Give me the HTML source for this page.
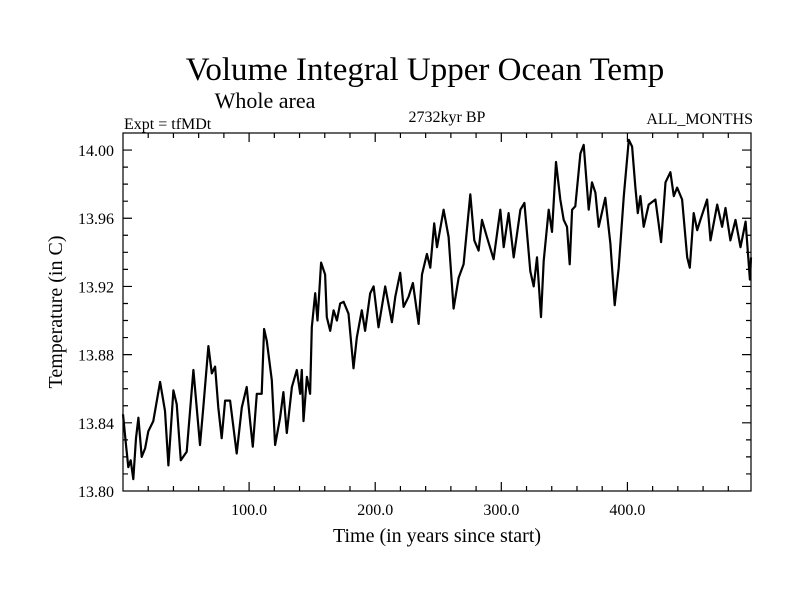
<!DOCTYPE html>
<html><head><meta charset="utf-8"><style>
body{margin:0;background:#fff;}
svg{display:block;font-family:"Liberation Serif",serif;}
</style></head><body>
<svg id="chart" width="800" height="600">
<text x="425" y="80" font-size="33" text-anchor="middle">Volume Integral Upper Ocean Temp</text>
<text x="265" y="108" font-size="22" text-anchor="middle">Whole area</text>
<text x="124" y="129" font-size="16">Expt = tfMDt</text>
<text x="447" y="122" font-size="16" text-anchor="middle">2732kyr BP</text>
<text x="753" y="124" font-size="16" text-anchor="end">ALL_MONTHS</text>
<text x="437" y="542" font-size="20" text-anchor="middle">Time (in years since start)</text>
<text transform="translate(62,312) rotate(-90)" font-size="20" text-anchor="middle">Temperature (in C)</text>
<g id="axes"></g>
<path id="line" fill="none" stroke="#000" stroke-width="2.2" stroke-linejoin="round"/>
</svg>
<script>
const years=[0,2.4,4.2,6.1,8.2,10.3,12.2,14.8,17.5,20.1,24,29.4,33.3,36,40,42.6,45.8,50.5,55.8,61.1,63.7,67.7,70.4,73,75.6,78.3,81,84.9,90.2,94.2,98.1,100.8,102.9,106.1,110,111.9,114,118,120.6,124.6,127.2,129.9,133.9,137.8,140.5,141.8,143.1,145.8,148.4,149.7,152.4,154.2,157.1,160.3,161.6,164.3,167,169.6,172.2,174.9,178.8,182.8,185.4,189.4,192,196,198.7,202.6,207.9,213.2,215.9,219.8,222.5,226.5,229.9,234.4,237.1,241,243.7,246.8,249,254.2,258.2,262.2,266.1,270.1,275.4,278.6,282,284.7,288.6,293.9,299.2,301.9,305.8,309.8,315.1,318.3,323,325.7,328.3,331.5,333.6,337.6,340.2,343.4,346.8,349.5,352.1,354.2,356.1,358.7,362.7,365.3,369.3,371.9,374.6,377.2,382.5,386.5,389.9,393.1,397.1,401.1,403.7,406.3,408.2,410.3,412.9,416.9,422.2,426.7,430.2,434.1,436.8,439.4,443.4,447.4,449.5,452.6,455.3,457.9,463.2,465.9,471.2,475.1,477.8,481.7,485.7,489.7,493.7,497.1,498];
const temps=[13.845,13.827,13.814,13.818,13.807,13.831,13.843,13.820,13.825,13.835,13.841,13.864,13.847,13.815,13.859,13.851,13.818,13.823,13.871,13.827,13.849,13.885,13.869,13.873,13.849,13.831,13.853,13.853,13.822,13.849,13.861,13.841,13.826,13.857,13.857,13.895,13.888,13.865,13.827,13.843,13.858,13.834,13.861,13.871,13.857,13.871,13.841,13.867,13.857,13.896,13.916,13.900,13.934,13.927,13.902,13.894,13.906,13.900,13.910,13.911,13.904,13.872,13.890,13.906,13.894,13.916,13.920,13.896,13.920,13.899,13.914,13.928,13.908,13.914,13.922,13.898,13.927,13.939,13.931,13.957,13.943,13.965,13.949,13.907,13.925,13.933,13.974,13.947,13.941,13.959,13.949,13.936,13.965,13.943,13.963,13.937,13.965,13.969,13.929,13.920,13.937,13.902,13.935,13.965,13.952,13.993,13.971,13.959,13.955,13.933,13.965,13.967,13.998,14.003,13.965,13.981,13.975,13.955,13.972,13.945,13.909,13.931,13.973,14.006,14.002,13.978,13.963,13.973,13.955,13.968,13.971,13.946,13.981,13.987,13.973,13.978,13.971,13.937,13.931,13.963,13.953,13.959,13.971,13.947,13.968,13.955,13.966,13.947,13.959,13.943,13.958,13.924,13.937];
const xTickLabels=["100.0","200.0","300.0","400.0"];
const xTickValues=[100,200,300,400];
const yTickLabels=["13.80","13.84","13.88","13.92","13.96","14.00"];
const yTickValues=[13.80,13.84,13.88,13.92,13.96,14.00];

const L=123,R=751,T=133,B=491,X0=0,X1=498,Y0=13.80,Y1=14.01;
const sx=v=>L+(v-X0)/(X1-X0)*(R-L);
const sy=v=>B-(v-Y0)/(Y1-Y0)*(B-T);
const NS="http://www.w3.org/2000/svg";
const g=document.getElementById('axes');
function mk(tag,attrs){const e=document.createElementNS(NS,tag);for(const k in attrs)e.setAttribute(k,attrs[k]);g.appendChild(e);return e;}
const frame=mk('rect',{x:L,y:T,width:R-L,height:B-T,fill:'none',stroke:'#000','stroke-width':1.2});


let d='';
for(let v=20;v<X1;v+=20){const x=sx(v);const len=(v%100===0)?9:5;d+=`M${x},${B}v${-len}M${x},${T}v${len}`;}
for(let k=1;k<21;k++){const v=Y0+k*0.01;const y=sy(v);const len=(k%4===0)?9:5;d+=`M${L},${y}h${len}M${R},${y}h${-len}`;}
const ticks=mk('path',{d:d,stroke:'#000','stroke-width':1.2,fill:'none'});


xTickValues.forEach((v,i)=>{const t=mk('text',{x:sx(v),y:B+24,'font-size':16,'text-anchor':'middle'});t.textContent=xTickLabels[i];

});
yTickValues.forEach((v,i)=>{const t=mk('text',{x:L-9,y:sy(v)+6,'font-size':16,'text-anchor':'end'});t.textContent=yTickLabels[i];

});
document.getElementById('line').setAttribute('d',years.map((v,i)=>(i?'L':'M')+sx(v).toFixed(1)+','+sy(temps[i]).toFixed(1)).join(''));
</script>
</body></html>
